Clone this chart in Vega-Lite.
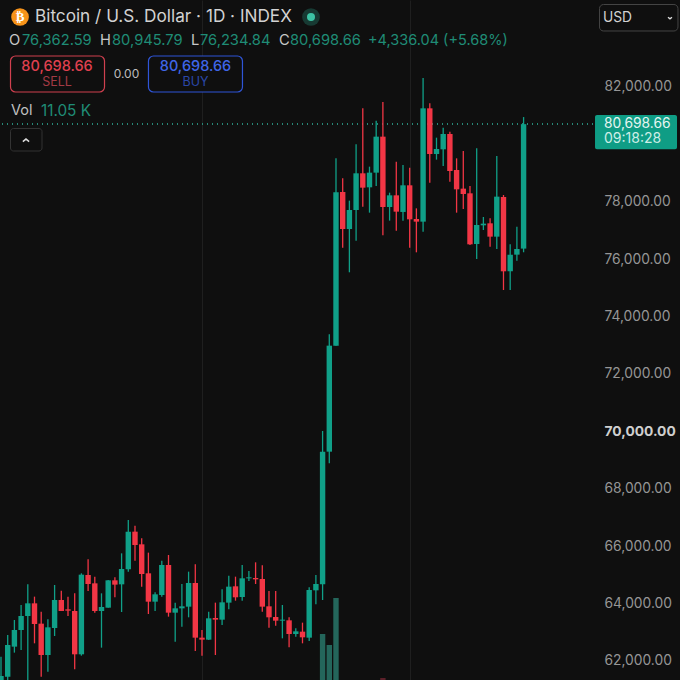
{
  "$schema": "https://vega.github.io/schema/vega-lite/v6.json",
  "autosize": "none",
  "padding": {"left": 0, "top": 0, "right": 87, "bottom": 0},
  "width": 593,
  "height": 680,
  "background": "#0f0f0f",
  "config": {"view": {"stroke": null}, "text": {"font": "Inter"}},
  "resolve": {"scale": {"y": "independent", "color": "independent"}},
  "layer": [
    {
      "data": {"values": [{"i": 48, "vol": 46, "dir": "up"}, {"i": 49, "vol": 35, "dir": "up"}, {"i": 50, "vol": 82, "dir": "up"}, {"i": 57, "vol": 2, "dir": "down"}]},
      "mark": {"type": "bar", "size": 5.4},
      "encoding": {
        "x": {"field": "i", "type": "quantitative", "scale": {"domain": [-0.149, 88.36], "nice": false, "zero": false, "padding": 0}, "axis": {"values": [30, 61], "labels": false, "ticks": false, "domain": false, "title": null, "gridColor": "#1f1f1f", "gridWidth": 1}},
        "y": {"field": "vol", "type": "quantitative", "scale": {"domain": [0, 680]}, "axis": null},
        "color": {"field": "dir", "type": "nominal", "scale": {"domain": ["up", "down"], "range": ["#24665b", "#5c2029"]}, "legend": null}
      }
    },
    {
      "data": {"values": [
        {"i":0,"o":61000,"h":62146,"l":60800,"c":61473,"dir":"up"},
        {"i":1,"o":61449,"h":62901,"l":61300,"c":62553,"dir":"up"},
        {"i":2,"o":62495,"h":63424,"l":62286,"c":63075,"dir":"up"},
        {"i":3,"o":63075,"h":63946,"l":62379,"c":63563,"dir":"up"},
        {"i":4,"o":63563,"h":64666,"l":61200,"c":64004,"dir":"up"},
        {"i":5,"o":64004,"h":64237,"l":62611,"c":63284,"dir":"down"},
        {"i":6,"o":63296,"h":63714,"l":61450,"c":62204,"dir":"down"},
        {"i":7,"o":62204,"h":63447,"l":61624,"c":63168,"dir":"up"},
        {"i":8,"o":63145,"h":64643,"l":62866,"c":64121,"dir":"up"},
        {"i":9,"o":64121,"h":64446,"l":63737,"c":63737,"dir":"down"},
        {"i":10,"o":63795,"h":64237,"l":63563,"c":63749,"dir":"down"},
        {"i":11,"o":63737,"h":64353,"l":61705,"c":62228,"dir":"down"},
        {"i":12,"o":62228,"h":65050,"l":62181,"c":65003,"dir":"up"},
        {"i":13,"o":64991,"h":65537,"l":64434,"c":64678,"dir":"down"},
        {"i":14,"o":64701,"h":64933,"l":63679,"c":63737,"dir":"down"},
        {"i":15,"o":63737,"h":64353,"l":62460,"c":63877,"dir":"up"},
        {"i":16,"o":63853,"h":64817,"l":63853,"c":64806,"dir":"up"},
        {"i":17,"o":64806,"h":64910,"l":64213,"c":64655,"dir":"down"},
        {"i":18,"o":64666,"h":65746,"l":63702,"c":65201,"dir":"up"},
        {"i":19,"o":65189,"h":66908,"l":65108,"c":66501,"dir":"up"},
        {"i":20,"o":66501,"h":66710,"l":65491,"c":66037,"dir":"down"},
        {"i":21,"o":66060,"h":66269,"l":64585,"c":65026,"dir":"down"},
        {"i":22,"o":65050,"h":65770,"l":63633,"c":64062,"dir":"down"},
        {"i":23,"o":64062,"h":64388,"l":63737,"c":64318,"dir":"up"},
        {"i":24,"o":64295,"h":65491,"l":64237,"c":65340,"dir":"up"},
        {"i":25,"o":65340,"h":65688,"l":63540,"c":63679,"dir":"down"},
        {"i":26,"o":63679,"h":64028,"l":62669,"c":63830,"dir":"up"},
        {"i":27,"o":63830,"h":64678,"l":63192,"c":63900,"dir":"up"},
        {"i":28,"o":63888,"h":65108,"l":63517,"c":64713,"dir":"up"},
        {"i":29,"o":64713,"h":65363,"l":62344,"c":62808,"dir":"down"},
        {"i":30,"o":62808,"h":63075,"l":62181,"c":62738,"dir":"down"},
        {"i":31,"o":62738,"h":63714,"l":62727,"c":63482,"dir":"up"},
        {"i":32,"o":63493,"h":64028,"l":62204,"c":63435,"dir":"down"},
        {"i":33,"o":63435,"h":64492,"l":63250,"c":64039,"dir":"up"},
        {"i":34,"o":64028,"h":64968,"l":63795,"c":64585,"dir":"up"},
        {"i":35,"o":64597,"h":64933,"l":64097,"c":64214,"dir":"down"},
        {"i":36,"o":64225,"h":65340,"l":64097,"c":64875,"dir":"up"},
        {"i":37,"o":64875,"h":65131,"l":64783,"c":64910,"dir":"up"},
        {"i":38,"o":64887,"h":65433,"l":64678,"c":64840,"dir":"down"},
        {"i":39,"o":64852,"h":65328,"l":63714,"c":63888,"dir":"down"},
        {"i":40,"o":63900,"h":64434,"l":63157,"c":63517,"dir":"down"},
        {"i":41,"o":63528,"h":64434,"l":63226,"c":63400,"dir":"down"},
        {"i":42,"o":63400,"h":63946,"l":62785,"c":63435,"dir":"up"},
        {"i":43,"o":63412,"h":63517,"l":62471,"c":62936,"dir":"down"},
        {"i":44,"o":62936,"h":63133,"l":62843,"c":63029,"dir":"up"},
        {"i":45,"o":63017,"h":63331,"l":62611,"c":62820,"dir":"down"},
        {"i":46,"o":62808,"h":64562,"l":62692,"c":64469,"dir":"up"},
        {"i":47,"o":64457,"h":64992,"l":63970,"c":64678,"dir":"up"},
        {"i":48,"o":64666,"h":70008,"l":64120,"c":69288,"dir":"up"},
        {"i":49,"o":69288,"h":73376,"l":68882,"c":72981,"dir":"up"},
        {"i":50,"o":72981,"h":79508,"l":72981,"c":78324,"dir":"up"},
        {"i":51,"o":78335,"h":78812,"l":76396,"c":77046,"dir":"down"},
        {"i":52,"o":77046,"h":78034,"l":75537,"c":77708,"dir":"up"},
        {"i":53,"o":77708,"h":79996,"l":76640,"c":78986,"dir":"up"},
        {"i":54,"o":78986,"h":81250,"l":77824,"c":78486,"dir":"down"},
        {"i":55,"o":78498,"h":79218,"l":77615,"c":79009,"dir":"up"},
        {"i":56,"o":79009,"h":80821,"l":78544,"c":80263,"dir":"up"},
        {"i":57,"o":80263,"h":81471,"l":76826,"c":77813,"dir":"down"},
        {"i":58,"o":77813,"h":78312,"l":77337,"c":78219,"dir":"up"},
        {"i":59,"o":78219,"h":79392,"l":76988,"c":77650,"dir":"down"},
        {"i":60,"o":77639,"h":79276,"l":77337,"c":78568,"dir":"up"},
        {"i":61,"o":78568,"h":79183,"l":76396,"c":77383,"dir":"down"},
        {"i":62,"o":77395,"h":77766,"l":76233,"c":77302,"dir":"down"},
        {"i":63,"o":77302,"h":82307,"l":76954,"c":81250,"dir":"up"},
        {"i":64,"o":81250,"h":81424,"l":78661,"c":79659,"dir":"down"},
        {"i":65,"o":79659,"h":80228,"l":79462,"c":79833,"dir":"up"},
        {"i":66,"o":79822,"h":80577,"l":79241,"c":80356,"dir":"up"},
        {"i":67,"o":80356,"h":80437,"l":78695,"c":79067,"dir":"down"},
        {"i":68,"o":79102,"h":79508,"l":77615,"c":78428,"dir":"down"},
        {"i":69,"o":78452,"h":79764,"l":77743,"c":78266,"dir":"down"},
        {"i":70,"o":78289,"h":78544,"l":76489,"c":76512,"dir":"down"},
        {"i":71,"o":76524,"h":79857,"l":76001,"c":77186,"dir":"up"},
        {"i":72,"o":77174,"h":77464,"l":77011,"c":77232,"dir":"up"},
        {"i":73,"o":77244,"h":77418,"l":76431,"c":76779,"dir":"down"},
        {"i":74,"o":76779,"h":79590,"l":76350,"c":78173,"dir":"up"},
        {"i":75,"o":78161,"h":78231,"l":74921,"c":75572,"dir":"down"},
        {"i":76,"o":75572,"h":76512,"l":74921,"c":76152,"dir":"up"},
        {"i":77,"o":76152,"h":77128,"l":75943,"c":76350,"dir":"up"},
        {"i":78,"o":76362.59,"h":80945.79,"l":76234.84,"c":80698.66,"dir":"up"}
      ]},
      "layer": [
        {
          "mark": {"type": "rule", "color": "#2a8a78", "strokeDash": [1, 4], "strokeWidth": 1},
          "encoding": {
            "y": {
              "datum": 80698.66,
              "scale": {"domain": [61333, 85024], "nice": false, "zero": false},
              "axis": {
                "title": null,
                "orient": "right",
                "values": [62000, 64000, 66000, 68000, 70000, 72000, 74000, 76000, 78000, 80000, 82000, 84000],
                "labelExpr": "datum.value == 84000 || datum.value == 80000 ? '' : format(datum.value, ',.2f')",
                "labelPadding": 11,
                "labelFont": "Inter",
                "labelFontSize": 13.8,
                "labelColor": {"condition": {"test": "datum.value == 70000", "value": "#cfcfcf"}, "value": "#969696"},
                "labelFontWeight": {"condition": {"test": "datum.value == 70000", "value": "bold"}, "value": "normal"},
                "ticks": false,
                "domain": false,
                "gridColor": "#1f1f1f",
                "gridWidth": 1
              }
            }
          }
        },
        {
          "mark": {"type": "rule", "strokeWidth": 1.3, "clip": true},
          "encoding": {
            "x": {"field": "i", "type": "quantitative"},
            "y": {"field": "l", "type": "quantitative"},
            "y2": {"field": "h"},
            "color": {"field": "dir", "type": "nominal", "scale": {"domain": ["up", "down"], "range": ["#10a088", "#f23645"]}, "legend": null}
          }
        },
        {
          "mark": {"type": "bar", "size": 5.4, "clip": true},
          "encoding": {
            "x": {"field": "i", "type": "quantitative"},
            "y": {"field": "o", "type": "quantitative"},
            "y2": {"field": "c"},
            "color": {"field": "dir", "type": "nominal", "scale": {"domain": ["up", "down"], "range": ["#10a088", "#f23645"]}, "legend": null}
          }
        },
        {
          "data": {"values": [{"t": "Bitcoin / U.S. Dollar · 1D · INDEX"}]},
          "mark": {"type": "text", "align": "left", "fontSize": 17.2, "color": "#d2d2d2"},
          "encoding": {"x": {"datum": 5.07}, "y": {"datum": 84432}, "text": {"field": "t"}}
        },
        {
          "data": {"values": [{"t": "icon"}]},
          "mark": {"type": "point", "filled": true, "opacity": 1, "size": 314, "color": "#f7931a"},
          "encoding": {"x": {"datum": 2.84}, "y": {"datum": 84432}}
        },
        {
          "data": {"values": [{"t": "₿"}]},
          "mark": {"type": "text", "fontSize": 13, "fontWeight": "bold", "color": "#ffffff", "font": "DejaVu Sans"},
          "encoding": {"x": {"datum": 2.84}, "y": {"datum": 84432}, "text": {"field": "t"}}
        },
        {
          "data": {"values": [{"t": "halo"}]},
          "mark": {"type": "point", "filled": true, "opacity": 1, "size": 314, "color": "#173a33"},
          "encoding": {"x": {"datum": 46.27}, "y": {"datum": 84432}}
        },
        {
          "data": {"values": [{"t": "dot"}]},
          "mark": {"type": "point", "filled": true, "opacity": 1, "size": 64, "color": "#3cc3a4"},
          "encoding": {"x": {"datum": 46.27}, "y": {"datum": 84432}}
        },
        {
          "data": {"values": [{"t": "O"}]},
          "mark": {"type": "text", "align": "left", "fontSize": 14.7, "color": "#c8c8c8"},
          "encoding": {"x": {"datum": 1.19}, "y": {"datum": 83596}, "text": {"field": "t"}}
        },
        {
          "data": {"values": [{"t": "76,362.59"}]},
          "mark": {"type": "text", "align": "left", "fontSize": 14.7, "color": "#1f8c76"},
          "encoding": {"x": {"datum": 3.13}, "y": {"datum": 83596}, "text": {"field": "t"}}
        },
        {
          "data": {"values": [{"t": "H"}]},
          "mark": {"type": "text", "align": "left", "fontSize": 14.7, "color": "#c8c8c8"},
          "encoding": {"x": {"datum": 14.78}, "y": {"datum": 83596}, "text": {"field": "t"}}
        },
        {
          "data": {"values": [{"t": "80,945.79"}]},
          "mark": {"type": "text", "align": "left", "fontSize": 14.7, "color": "#1f8c76"},
          "encoding": {"x": {"datum": 16.57}, "y": {"datum": 83596}, "text": {"field": "t"}}
        },
        {
          "data": {"values": [{"t": "L"}]},
          "mark": {"type": "text", "align": "left", "fontSize": 14.7, "color": "#c8c8c8"},
          "encoding": {"x": {"datum": 28.36}, "y": {"datum": 83596}, "text": {"field": "t"}}
        },
        {
          "data": {"values": [{"t": "76,234.84"}]},
          "mark": {"type": "text", "align": "left", "fontSize": 14.7, "color": "#1f8c76"},
          "encoding": {"x": {"datum": 29.7}, "y": {"datum": 83596}, "text": {"field": "t"}}
        },
        {
          "data": {"values": [{"t": "C"}]},
          "mark": {"type": "text", "align": "left", "fontSize": 14.7, "color": "#c8c8c8"},
          "encoding": {"x": {"datum": 41.49}, "y": {"datum": 83596}, "text": {"field": "t"}}
        },
        {
          "data": {"values": [{"t": "80,698.66"}]},
          "mark": {"type": "text", "align": "left", "fontSize": 14.7, "color": "#1f8c76"},
          "encoding": {"x": {"datum": 43.13}, "y": {"datum": 83596}, "text": {"field": "t"}}
        },
        {
          "data": {"values": [{"t": "+4,336.04 (+5.68%)"}]},
          "mark": {"type": "text", "align": "left", "fontSize": 14.5, "color": "#1f8c76"},
          "encoding": {"x": {"datum": 54.78}, "y": {"datum": 83596}, "text": {"field": "t"}}
        },
        {
          "data": {"values": [{"t": "sell"}]},
          "mark": {"type": "rect", "fill": "#0f0f0f", "stroke": "#d0404f", "strokeWidth": 1.2, "cornerRadius": 5},
          "encoding": {"x": {"datum": 1.42}, "x2": {"datum": 15.45}, "y": {"datum": 83073}, "y2": {"datum": 81819}}
        },
        {
          "data": {"values": [{"t": "80,698.66"}]},
          "mark": {"type": "text", "fontSize": 14.5, "fontWeight": 500, "color": "#e0404f"},
          "encoding": {"x": {"datum": 8.36}, "y": {"datum": 82690}, "text": {"field": "t"}}
        },
        {
          "data": {"values": [{"t": "SELL"}]},
          "mark": {"type": "text", "fontSize": 12.5, "color": "#a33a45"},
          "encoding": {"x": {"datum": 8.36}, "y": {"datum": 82167}, "text": {"field": "t"}}
        },
        {
          "data": {"values": [{"t": "0.00"}]},
          "mark": {"type": "text", "fontSize": 12, "color": "#bdbdbd"},
          "encoding": {"x": {"datum": 18.73}, "y": {"datum": 82446}, "text": {"field": "t"}}
        },
        {
          "data": {"values": [{"t": "buy"}]},
          "mark": {"type": "rect", "fill": "#0f0f0f", "stroke": "#2f55d8", "strokeWidth": 1.2, "cornerRadius": 5},
          "encoding": {"x": {"datum": 22.01}, "x2": {"datum": 36.04}, "y": {"datum": 83073}, "y2": {"datum": 81819}}
        },
        {
          "data": {"values": [{"t": "80,698.66"}]},
          "mark": {"type": "text", "fontSize": 14.5, "fontWeight": 500, "color": "#3f66e8"},
          "encoding": {"x": {"datum": 29.03}, "y": {"datum": 82690}, "text": {"field": "t"}}
        },
        {
          "data": {"values": [{"t": "BUY"}]},
          "mark": {"type": "text", "fontSize": 12.5, "color": "#2a47a8"},
          "encoding": {"x": {"datum": 29.03}, "y": {"datum": 82167}, "text": {"field": "t"}}
        },
        {
          "data": {"values": [{"t": "Vol"}]},
          "mark": {"type": "text", "align": "left", "fontSize": 14.5, "color": "#c0c0c0"},
          "encoding": {"x": {"datum": 1.49}, "y": {"datum": 81157}, "text": {"field": "t"}}
        },
        {
          "data": {"values": [{"t": "11.05 K"}]},
          "mark": {"type": "text", "align": "left", "fontSize": 15.3, "color": "#1f8c76"},
          "encoding": {"x": {"datum": 5.97}, "y": {"datum": 81157}, "text": {"field": "t"}}
        },
        {
          "data": {"values": [{"t": "collapse"}]},
          "mark": {"type": "rect", "fill": "#0f0f0f", "stroke": "#333333", "strokeWidth": 1, "cornerRadius": 3},
          "encoding": {"x": {"datum": 1.42}, "x2": {"datum": 6.12}, "y": {"datum": 80547}, "y2": {"datum": 79763}}
        },
        {
          "data": {"values": [{"t": "chevron"}]},
          "mark": {"type": "point", "shape": "M-1,0.5L0,-0.3L1,0.5", "filled": false, "opacity": 1, "stroke": "#dddddd", "strokeWidth": 1.5, "size": 40},
          "encoding": {"x": {"datum": 3.73}, "y": {"datum": 80146}}
        },
        {
          "data": {"values": [{"t": "dropdown"}]},
          "mark": {"type": "rect", "fill": "#0f0f0f", "stroke": "#444444", "strokeWidth": 1, "cornerRadius": 4},
          "encoding": {"x": {"datum": 89.33}, "x2": {"datum": 101.04}, "y": {"datum": 84867}, "y2": {"datum": 83944}}
        },
        {
          "data": {"values": [{"t": "USD"}]},
          "mark": {"type": "text", "align": "left", "fontSize": 13.8, "color": "#d2d2d2"},
          "encoding": {"x": {"datum": 89.85}, "y": {"datum": 84397}, "text": {"field": "t"}}
        },
        {
          "data": {"values": [{"t": "chevron"}]},
          "mark": {"type": "point", "shape": "M-1,-0.4L0,0.4L1,-0.4", "filled": false, "opacity": 1, "stroke": "#dddddd", "strokeWidth": 1.3, "size": 16},
          "encoding": {"x": {"datum": 99.85}, "y": {"datum": 84397}}
        },
        {
          "data": {"values": [{"t": "tag"}]},
          "mark": {"type": "rect", "fill": "#0f9d85", "cornerRadius": 2},
          "encoding": {"x": {"datum": 88.66}, "x2": {"datum": 100.9}, "y": {"datum": 81017}, "y2": {"datum": 79823}}
        },
        {
          "data": {"values": [{"t": "80,698.66"}]},
          "mark": {"type": "text", "align": "left", "fontSize": 13.8, "color": "#e6f5f1"},
          "encoding": {"x": {"datum": 90}, "y": {"datum": 80704}, "text": {"field": "t"}}
        },
        {
          "data": {"values": [{"t": "09:18:28"}]},
          "mark": {"type": "text", "align": "left", "fontSize": 14, "color": "#cdeee7"},
          "encoding": {"x": {"datum": 90}, "y": {"datum": 80170}, "text": {"field": "t"}}
        }
      ]
    }
  ]
}
